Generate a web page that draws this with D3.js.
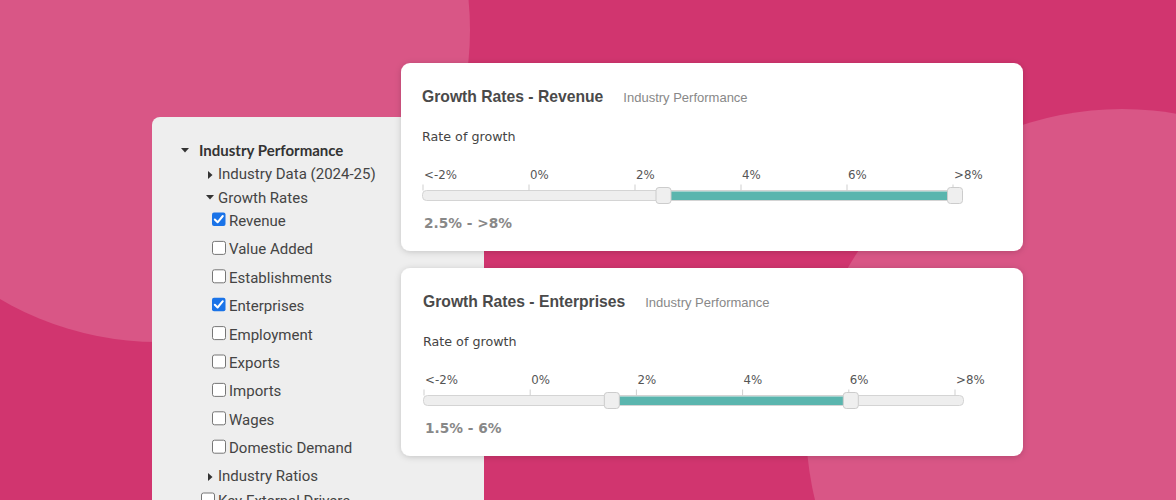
<!DOCTYPE html>
<html>
<head>
<meta charset="utf-8">
<script src="https://cdn.jsdelivr.net/npm/d3@7"></script>
<style>
  html, body { margin: 0; padding: 0; background: #D1356F; }
  svg { display: block; }
</style>
</head>
<body>
<svg id="chart" width="1176" height="500"></svg>
<script>
// ---------- DATA ----------
const tickValues = [-2, 0, 2, 4, 6, 8];
const tickLabels = ["<-2%", "0%", "2%", "4%", "6%", ">8%"];
const cardTitles = ["Growth Rates - Revenue", "Growth Rates - Enterprises"];
const cardSubtitles = ["Industry Performance", "Industry Performance"];
const axisTitle = "Rate of growth";
const rangeLow = [2.5, 1.5];
const rangeHigh = [8, 6];

const treeLabels = ["Industry Performance", "Industry Data (2024-25)", "Growth Rates",
  "Revenue", "Value Added", "Establishments", "Enterprises", "Employment", "Exports",
  "Imports", "Wages", "Domestic Demand", "Industry Ratios", "Key External Drivers"];
const treeLevels = [0, 1, 1, 2, 2, 2, 2, 2, 2, 2, 2, 2, 1, 1];
const treeKinds = ["open", "closed", "open", "check", "check", "check", "check", "check",
  "check", "check", "check", "check", "closed", "check"];
const treeChecked = [false, false, false, true, false, false, true, false, false, false, false, false, false, false];

// ---------- DRAW ----------
const svg = d3.select("#chart");
const W = 1176, H = 500;

const defs = svg.append("defs");
const f = defs.append("filter").attr("id", "shadow").attr("x", "-10%").attr("y", "-10%").attr("width", "120%").attr("height", "130%");
f.append("feDropShadow").attr("dx", 0).attr("dy", 1).attr("stdDeviation", 3)
  .attr("flood-color", "#000").attr("flood-opacity", 0.18);

// background
svg.append("rect").attr("width", W).attr("height", H).attr("fill", "#D1356F");
svg.append("circle").attr("cx", 158).attr("cy", 30).attr("r", 312).attr("fill", "#D95686");
svg.append("circle").attr("cx", 1122).attr("cy", 425).attr("r", 316).attr("fill", "#D95686");

// ---------- left tree panel ----------
const panel = svg.append("g");
panel.append("rect").attr("x", 152).attr("y", 117).attr("width", 332).attr("height", 420)
  .attr("rx", 8).attr("fill", "#EEEEEE");

const rowY = [156, 179, 203, 226, 254.4, 282.8, 311.2, 339.6, 368, 396.4, 424.8, 453.2, 481, 506];
const levelText = { 0: 199, 1: 218, 2: 229 };
const levelCaret = { 0: 185, 1: 210 };
const levelCheck = { 1: 201, 2: 212 };

treeLabels.forEach((lab, i) => {
  const lv = treeLevels[i], kind = treeKinds[i], y = rowY[i];
  const g = panel.append("g");
  const tx = levelText[lv];
  if (kind === "open") {
    const cx = levelCaret[lv], cy = y - 6;
    g.append("path").attr("d", `M${cx - 4},${cy - 2}L${cx + 4},${cy - 2}L${cx},${cy + 2.5}Z`).attr("fill", "#333");
  } else if (kind === "closed") {
    const cx = levelCaret[lv], cy = y - 4;
    g.append("path").attr("d", `M${cx - 2},${cy - 4}L${cx + 2.5},${cy}L${cx - 2},${cy + 4}Z`).attr("fill", "#333");
  } else {
    const bx = levelCheck[lv], by = y - 13.5;
    if (treeChecked[i]) {
      g.append("rect").attr("x", bx).attr("y", by).attr("width", 13.5).attr("height", 13.5).attr("rx", 2).attr("fill", "#1A73E8");
      g.append("path").attr("d", `M${bx + 2.8},${by + 7}L${bx + 5.6},${by + 9.8}L${bx + 10.8},${by + 3.5}`)
        .attr("fill", "none").attr("stroke", "#fff").attr("stroke-width", 2).attr("stroke-linecap", "round").attr("stroke-linejoin", "round");
    } else {
      g.append("rect").attr("x", bx + 0.5).attr("y", by + 0.5).attr("width", 13).attr("height", 13).attr("rx", 2)
        .attr("fill", "#fff").attr("stroke", "#767676").attr("stroke-width", 1);
    }
  }
  g.append("text").attr("x", lv === 1 && kind === "check" ? 218 : tx).attr("y", y)
    .attr("font-family", lv === 0 ? "Lato" : "Roboto")
    .attr("font-weight", lv === 0 ? 700 : 400)
    .attr("font-size", lv === 0 ? 15 : 15)
    .attr("fill", lv === 0 ? "#333" : "#444")
    .text(lab);
});

// ---------- cards ----------
cardTitles.forEach((title, k) => {
  const cx = 401, cy = 63 + k * 205;
  const g = svg.append("g").attr("transform", `translate(${cx},${cy})`);
  g.append("rect").attr("width", 622).attr("height", 188).attr("rx", 9).attr("fill", "#fff").attr("filter", "url(#shadow)");

  const t = g.append("text").attr("x", 21 + k).attr("y", 39)
    .attr("font-family", "Liberation Sans, Arial").attr("font-weight", 700).attr("font-size", 15.7)
    .attr("fill", "#4a4a4a").text(title);
  const tw = t.node().getComputedTextLength();
  g.append("text").attr("x", 21 + k + tw + 20).attr("y", 39)
    .attr("font-family", "Liberation Sans, Arial").attr("font-size", 13)
    .attr("fill", "#888").text(cardSubtitles[k]);

  g.append("text").attr("x", 21 + k).attr("y", 77.5)
    .attr("font-family", "DejaVu Sans").attr("font-size", 12.7).attr("fill", "#444").text(axisTitle);

  const x = d3.scaleLinear().domain([-2, 8]).range([21.5 + k, 551.5 + 2 * k]);

  // track
  g.append("rect").attr("x", x(-2)).attr("y", 127.5).attr("width", x(8) - x(-2) + 9).attr("height", 10)
    .attr("rx", 4).attr("fill", "#EEEEEE").attr("stroke", "#D4D4D4").attr("stroke-width", 1);

  // axis ticks
  const axis = d3.axisTop(x).tickValues(tickValues).tickSize(6).tickFormat((d, i) => tickLabels[i]);
  const ag = g.append("g").attr("transform", "translate(0,127.5)").call(axis);
  ag.select(".domain").remove();
  ag.selectAll(".tick line").attr("stroke", "#CFCFCF");
  ag.selectAll(".tick text").attr("text-anchor", "start").attr("x", 1).attr("y", -11.5)
    .attr("dy", 0).attr("font-family", "DejaVu Sans").attr("font-size", 11.8).attr("fill", "#555");

  // selected range bar
  const off = 2.5;
  g.append("rect").attr("x", x(rangeLow[k]) + off).attr("y", 128.5)
    .attr("width", x(rangeHigh[k]) - x(rangeLow[k])).attr("height", 8.5)
    .attr("fill", "#5AB5AE");

  // handles
  [rangeLow[k], rangeHigh[k]].forEach(v => {
    g.append("rect").attr("x", x(v) + off - 7.5).attr("y", 124.5).attr("width", 15).attr("height", 16)
      .attr("rx", 3).attr("fill", "#EFEFEF").attr("stroke", "#CCCCCC").attr("stroke-width", 1);
  });

  const fmt = v => v <= -2 ? "<-2%" : v >= 8 ? ">8%" : v + "%";
  g.append("text").attr("x", 23 + k).attr("y", 164.5)
    .attr("font-family", "DejaVu Sans").attr("font-weight", 700).attr("font-size", 13.7)
    .attr("fill", "#888").text(fmt(rangeLow[k]) + " - " + fmt(rangeHigh[k]));
});
</script>
</body>
</html>
